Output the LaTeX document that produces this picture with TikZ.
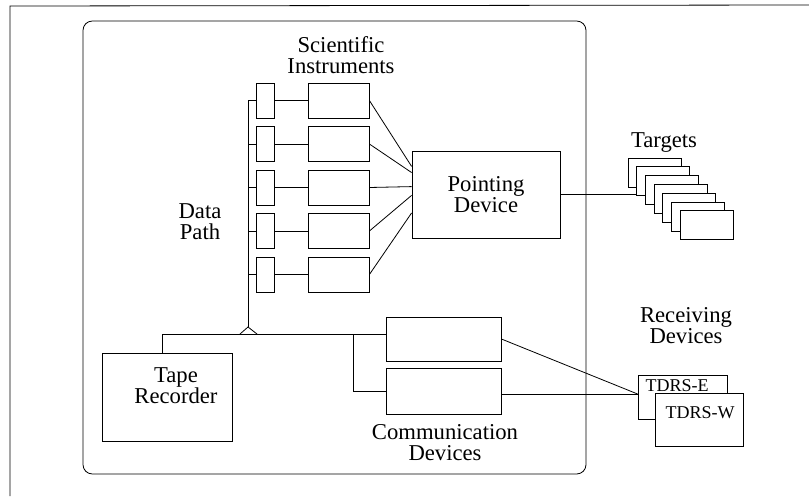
\documentclass[tikz,border=0pt]{standalone}
\usepackage{fontspec}
\setmainfont{Liberation Serif}
\usetikzlibrary{calc}

\tikzset{
	box/.style={draw, rectangle, inner sep=0pt},
	lbl/.style={align=center, inner sep=0pt, font=\fontsize{17}{15.75}\selectfont},
	small/.style={inner sep=0pt, font=\fontsize{13.5}{13.5}\selectfont},
}

\begin{document}
\begin{tikzpicture}[x=0.75pt, y=-0.75pt, line width=0.6pt]
	\useasboundingbox (0,0) rectangle (809,496);
	\draw (10,496) -- (10,6) -- (809,5);
	\draw[rounded corners=7pt] (83,21) rectangle (586,474);
	
	\node[lbl] (sci) at (341,55) {Scientific\\Instruments};
	\node[lbl] (dpl) at (200,222) {Data\\Path};
	\node[lbl] (tgl) at (664,143) {Targets};
	\node[lbl] (rcv) at (686,326) {Receiving\\Devices};
	\node[lbl] (cdl) at (445,443) {Communication\\Devices};
	
	\node[box, lbl, minimum width=111pt, minimum height=65.25pt] (pd) at (486,194.5) {Pointing\\Device};
	\node[box, minimum width=97.5pt, minimum height=66pt] (tr) at (167,397) {};
	\node[lbl] (trl) at (176,386) {Tape\\Recorder};
	\node[box, minimum width=86.25pt, minimum height=33pt] (c1) at (443.5,339) {};
	\node[box, minimum width=86.25pt, minimum height=34.5pt] (c2) at (443.5,391) {};
	
	\coordinate (dp) at (248,100);
	\coordinate (apex) at (248,327);
	\coordinate (tap) at (162,334);
	\coordinate (br) at (353,334);
	
	\foreach \i/\f in {0/0.18,1/0.25,2/0.41,3/0.51,4/0.71} {
		\node[box, minimum width=13.5pt, minimum height=26.25pt] (s\i) at (265,{100.5+43.5*\i}) {};
		\node[box, minimum width=45.75pt, minimum height=26.25pt] (b\i) at (338.5,{100.5+43.5*\i}) {};
		\draw (s\i) -- (b\i);
		\draw (s\i.west) -- (s\i.west -| dp);
		\draw (b\i.east) -- ($(pd.north west)!\f!(pd.south west)$);
	}
	
	\draw (dp) -- (apex);
	\draw (240,334) -- (apex) -- (257,334);
	\draw (tap |- tr.north) -- (tap) -- (c1.west |- tap);
	\draw (br) -- (br |- c2.west) -- (c2.west);
	
	\draw (pd.east) -- ++(85,0) coordinate (tg);
	\foreach \i in {0,...,6}
		\node[box, fill=white, minimum width=39.75pt, minimum height=21.75pt] (t\i) at ({654.5+8.7*\i},{172.5+8.8*\i}) {};
	
	\node[box, minimum width=66.75pt, minimum height=33pt] (te) at (682.5,397) {};
	\node[small] (tel) at (677,386) {TDRS-E};
	\node[box, fill=white, minimum width=66pt, minimum height=39.75pt] (tw) at (699,419.5) {};
	\node[small] (twl) at (700,413) {TDRS-W};
	
	\coordinate (rx) at ($(te.west)+(0,-3)$);
	\draw (c1.east) -- (rx);
	\draw (c2.east |- rx) -- (rx);
\end{tikzpicture}
\end{document}
